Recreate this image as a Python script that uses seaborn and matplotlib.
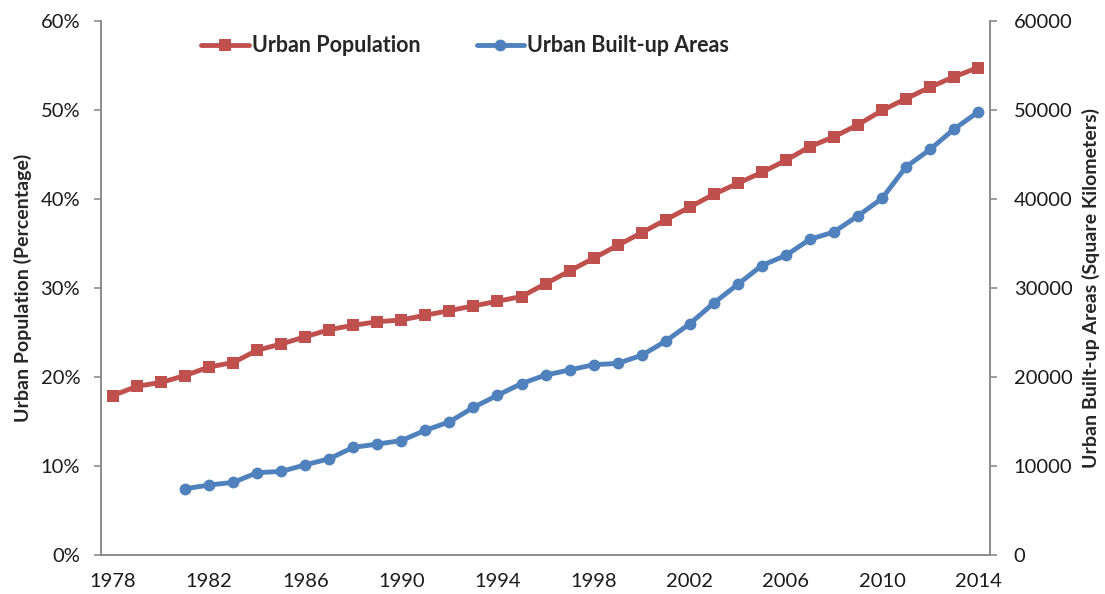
import matplotlib
matplotlib.use("Agg")
import matplotlib.pyplot as plt
import seaborn as sns
import pandas as pd
from matplotlib.ticker import FixedLocator, FuncFormatter

years_pop = list(range(1978, 2015))
urban_pop = [17.92, 18.96, 19.39, 20.16, 21.13, 21.62, 23.01, 23.71, 24.52, 25.32,
             25.81, 26.21, 26.41, 26.94, 27.46, 27.99, 28.51, 29.04, 30.48, 31.91,
             33.35, 34.78, 36.22, 37.66, 39.09, 40.53, 41.76, 42.99, 44.34, 45.89,
             46.99, 48.34, 49.95, 51.27, 52.57, 53.73, 54.77]
years_area = list(range(1981, 2015))
built_area = [7438, 7862, 8156, 9249, 9386, 10127, 10816, 12094, 12462, 12856,
              14011, 14958, 16588, 17940, 19264, 20214, 20791, 21380, 21525, 22439,
              24027, 25973, 28308, 30406, 32521, 33660, 35470, 36295, 38107, 40058,
              43603, 45566, 47855, 49773]
x_labels = list(range(1978, 2015, 4))

sns.set_style("white")
plt.rcParams['font.family'] = ['Lato', 'DejaVu Sans']

RED = "#C0504D"
BLUE = "#4F81BD"
GREY = "#8C8C8C"

df_pop = pd.DataFrame({"year": years_pop, "pct": urban_pop})
df_area = pd.DataFrame({"year": years_area, "area": built_area})

fig = plt.figure(figsize=(11.05, 5.94), dpi=100)
ax = fig.add_axes([0.0914, 0.0657, 0.8046, 0.8989])
ax2 = ax.twinx()

sns.lineplot(data=df_pop, x="year", y="pct", ax=ax, color=RED, lw=3.5,
             marker="s", markersize=8.5, markeredgewidth=0, label="Urban Population", legend=False)
sns.lineplot(data=df_area, x="year", y="area", ax=ax2, color=BLUE, lw=3.5,
             marker="o", markersize=8.5, markeredgewidth=0, label="Urban Built-up Areas", legend=False)

ax.set_xlim(1977.5, 2014.5)
ax.set_ylim(0, 60)
ax2.set_ylim(0, 60000)

ax.set_yticks(range(0, 61, 10))
ax.yaxis.set_major_formatter(FuncFormatter(lambda v, p: f"{int(v)}%"))
ax2.set_yticks(range(0, 60001, 10000))
ax2.yaxis.set_major_formatter(FuncFormatter(lambda v, p: f"{int(v)}"))

ax.set_xticks(x_labels)
ax.set_xticklabels([str(y) for y in x_labels])
ax.tick_params(axis="x", which="major", length=0, pad=13)
ax.xaxis.set_minor_locator(FixedLocator([y - 0.5 for y in range(1978, 2016)]))
ax.tick_params(axis="x", which="minor", length=5, width=1.2, color=GREY, direction="out")

ax.tick_params(axis="y", length=5, width=1.2, color=GREY, direction="out", pad=10)
ax2.tick_params(axis="y", length=5, width=1.2, color=GREY, direction="out", pad=12)
ax.tick_params(labelsize=14.5, labelcolor="#1a1a1a")
ax2.tick_params(labelsize=14.5, labelcolor="#1a1a1a")

for a in (ax, ax2):
    a.spines["top"].set_visible(False)
    for s in ("left", "right", "bottom"):
        a.spines[s].set_color(GREY)
        a.spines[s].set_linewidth(1.2)
    a.grid(False)

ax.set_xlabel("")
ax.set_ylabel("Urban Population (Percentage)", fontsize=14, fontweight="bold", labelpad=6)
ax2.set_ylabel("Urban Built-up Areas (Square Kilometers)", fontsize=14, fontweight="bold", labelpad=7)

h1, l1 = ax.get_legend_handles_labels()
h2, l2 = ax2.get_legend_handles_labels()
leg = fig.legend(h1 + h2, l1 + l2, loc="center", bbox_to_anchor=(0.421, 0.923), ncol=2,
                 frameon=False, prop={"size": 15.5, "weight": "bold"}, handlelength=2.2,
                 handletextpad=0.15, columnspacing=2.6)

fig.savefig("out.png", dpi=100)
